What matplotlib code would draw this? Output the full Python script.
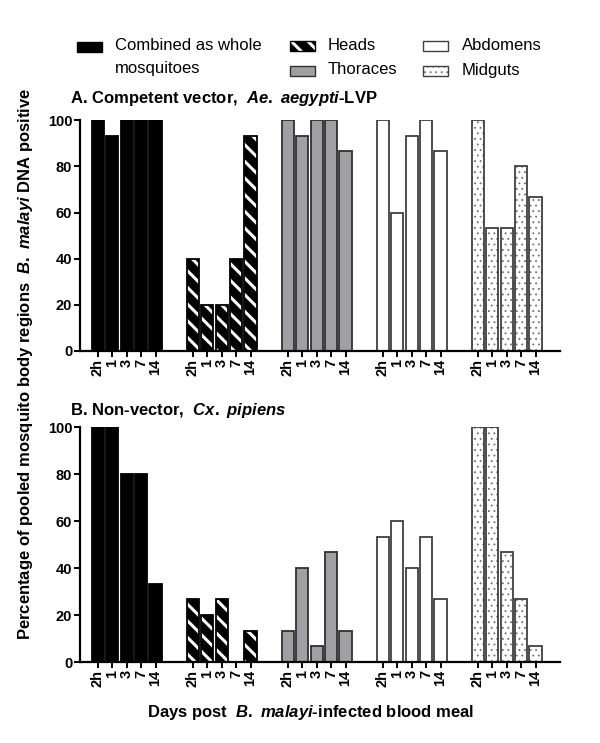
import numpy as np
import matplotlib
matplotlib.use('Agg')
import matplotlib.pyplot as plt
from matplotlib.patches import Rectangle

plt.rcParams['font.family'] = ['Liberation Sans', 'DejaVu Sans']
plt.rcParams['mathtext.fontset'] = 'custom'
plt.rcParams['mathtext.rm'] = 'Liberation Sans:bold'
plt.rcParams['mathtext.it'] = 'Liberation Sans:italic:bold'
plt.rcParams['mathtext.bf'] = 'Liberation Sans:bold'

# 数据
days = ['2h', '1', '3', '7', '14']
regions = ['Combined as whole\nmosquitoes', 'Heads', 'Thoraces', 'Abdomens', 'Midguts']

# A. Ae. aegypti-LVP
aeg_combined = [100, 93.3, 100, 100, 100]
aeg_heads = [40, 20, 20, 40, 93.3]
aeg_thoraces = [100, 93.3, 100, 100, 86.7]
aeg_abdomens = [100, 60, 93.3, 100, 86.7]
aeg_midguts = [100, 53.3, 53.3, 80, 66.7]

# B. Cx. pipiens
pip_combined = [100, 100, 80, 80, 33.3]
pip_heads = [26.7, 20, 26.7, 0, 13.3]
pip_thoraces = [13.3, 40, 6.7, 46.7, 13.3]
pip_abdomens = [53.3, 60, 40, 53.3, 26.7]
pip_midguts = [100, 100, 46.7, 26.7, 6.7]

# 每组的样式: (填充色, 边框色, 花纹, 花纹颜色, 花纹线宽)
styles = [
    ('black', 'black', None, None, 0),
    ('black', 'black', '\\\\', 'white', 2.2),
    ('#a0a0a4', '#303030', None, None, 0),
    ('white', '#404040', None, None, 0),
    ('white', '#404040', '...', '#707070', 0.6),
]

group_gap = 6.6
bar_w = 0.85


def draw_panel(ax, groups, title, title_y):
    ticks = []
    labels = []
    for g, vals in enumerate(groups):
        x = g * group_gap + np.arange(len(days))
        fc, ec, hatch, hc, hlw = styles[g]
        if hatch:
            with plt.rc_context({'hatch.linewidth': hlw}):
                ax.bar(x, vals, bar_w, color=fc, edgecolor=hc, hatch=hatch, linewidth=0)
            ax.bar(x, vals, bar_w, fill=False, edgecolor=ec, linewidth=1.3)
        else:
            ax.bar(x, vals, bar_w, color=fc, edgecolor=ec, linewidth=1.3)
        ticks.extend(x)
        labels.extend(days)
    ax.set_xticks(ticks)
    ax.set_xticklabels(labels, rotation=90, fontsize=10.5, fontweight='bold')
    ax.set_xlim(-1.25, 4 * group_gap + 4 + 1.7)
    ax.set_ylim(0, 100)
    ax.set_yticks(np.arange(0, 101, 20))
    ax.set_yticklabels([str(v) for v in range(0, 101, 20)], fontsize=10.5, fontweight='bold')
    for s in ['top', 'right']:
        ax.spines[s].set_visible(False)
    for s in ['left', 'bottom']:
        ax.spines[s].set_linewidth(1.6)
    ax.tick_params(axis='both', length=4, width=1.4, pad=1.5)
    ax.text(-0.02, title_y, title, transform=ax.transAxes, fontsize=12,
            fontweight='bold', ha='left', va='bottom')


fig = plt.figure(figsize=(6, 7.43), dpi=100)

ax_a = fig.add_axes([0.1333, 0.5276, 0.8, 0.3105])
draw_panel(ax_a, [aeg_combined, aeg_heads, aeg_thoraces, aeg_abdomens, aeg_midguts],
           r'A. Competent vector,  $Ae.\ aegypti$-LVP', 1.055)

ax_b = fig.add_axes([0.1333, 0.109, 0.8, 0.3163])
draw_panel(ax_b, [pip_combined, pip_heads, pip_thoraces, pip_abdomens, pip_midguts],
           r'B. Non-vector,  $Cx.\ pipiens$', 1.03)

# 坐标轴标题
fig.text(0.043, 0.51, r'Percentage of pooled mosquito body regions  $B.\ malayi$ DNA positive',
         rotation=90, fontsize=12, fontweight='bold', ha='center', va='center')
fig.text(0.517, 0.041, r'Days post  $B.\ malayi$-infected blood meal',
         fontsize=12, fontweight='bold', ha='center', va='center')

# 图例 (手动绘制)
W, H = 600.0, 743.0
legend_items = [
    (77, 42, 115, 0),
    (290, 41, 328, 1),
    (290, 66, 328, 2),
    (423, 41, 462, 3),
    (423, 66, 462, 4),
]
for px, py, tx, g in legend_items:
    fc, ec, hatch, hc, hlw = styles[g]
    with plt.rc_context({'hatch.linewidth': hlw if hatch else 1.0}):
        r = Rectangle((px / W, 1 - (py + 10) / H), 25 / W, 10 / H, transform=fig.transFigure,
                      facecolor=fc, edgecolor=hc if hatch else ec, hatch=hatch, linewidth=0)
    fig.add_artist(r)
    fig.add_artist(Rectangle((px / W, 1 - (py + 10) / H), 25 / W, 10 / H,
                             transform=fig.transFigure, fill=False, edgecolor=ec, linewidth=1.0))
    for k, line in enumerate(regions[g].split('\n')):
        fig.text(tx / W, 1 - (py + 4 + 22 * k) / H, line, fontsize=12, ha='left', va='center')

fig.savefig('out.png', dpi=100)
